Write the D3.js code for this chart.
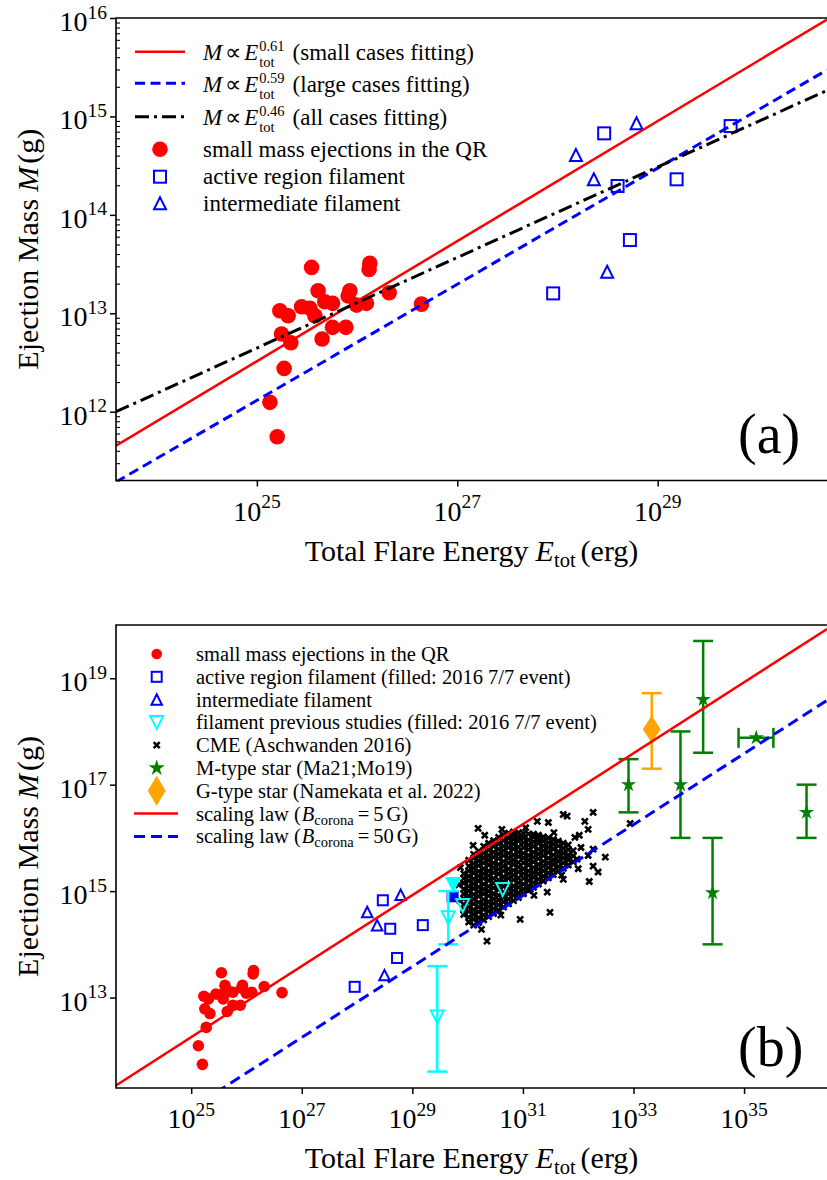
<!DOCTYPE html>
<html>
<head>
<meta charset="utf-8">
<script src="https://cdn.jsdelivr.net/npm/d3@7"></script>
<style>
  html, body { margin: 0; padding: 0; background: #fff; }
  svg { display: block; }
</style>
</head>
<body>
<svg id="fig" width="827" height="1180"></svg>
<script>
// ---------------------------------------------------------------------------
// Data: log10 of total flare energy E_tot (erg) and ejection mass M (g)
// ---------------------------------------------------------------------------

// small mass ejections in the quiet region
const smallLogE = [25.546, 26.127, 26.120, 25.611, 25.928, 25.911, 26.320, 25.229, 25.312,
  25.446, 25.529, 25.579, 25.678, 25.755, 25.995, 26.094, 26.643, 25.246, 25.339, 25.755,
  25.888, 25.651, 25.272, 25.130, 25.203];
const smallLogM = [13.466, 13.507, 13.446, 13.229, 13.229, 13.175, 13.208, 13.025, 12.975,
  13.066, 13.050, 12.975, 13.117, 13.101, 13.083, 13.101, 13.093, 12.789, 12.700, 12.857,
  12.857, 12.738, 12.440, 12.095, 11.745];

// active region filaments (the 2016 7/7 event is drawn filled in panel b)
const arLogE = [28.466, 28.600, 29.189, 29.728, 28.723, 27.957];
const arLogM = [14.828, 14.293, 14.361, 14.902, 13.744, 13.202];
const arIs0707 = [false, false, false, true, false, false];

// intermediate filaments
const interLogE = [28.184, 28.789, 28.363, 28.496];
const interLogM = [14.608, 14.930, 14.361, 13.422];

// filaments from previous studies (with mass ranges where given)
const prevLogE = [29.740, 29.910, 29.650, 30.634, 29.451];
const prevLogM = [15.126, 14.731, 14.499, 15.032, 12.637];
const prevLogMLow = [null, null, 14.00, null, 11.61];
const prevLogMHigh = [null, null, 15.00, null, 13.59];
const prevIs0707 = [true, false, false, false, false];

// M-type stars (Ma21; Mo19)
const mStarLogE = [32.91, 34.26, 33.85, 34.43, 35.22, 36.13];
const mStarLogM = [17.00, 18.60, 17.00, 14.97, 17.88, 16.48];
const mStarLogMLow = [16.48, 17.60, 16.00, 14.00, null, 16.00];
const mStarLogMHigh = [17.48, 19.70, 18.00, 16.00, null, 17.00];
const mStarLogELow = [null, null, null, null, 34.90, null];
const mStarLogEHigh = [null, null, null, null, 35.53, null];

// G-type star (Namekata et al. 2022)
const gStarLogE = [33.33];
const gStarLogM = [18.04];
const gStarLogMLow = [17.30];
const gStarLogMHigh = [18.72];

// CMEs (Aschwanden 2016): columns of [log E, list of log M]
const cmeColumns = [
  [29.93, [14.56, 14.66, 14.75, 14.86, 14.95, 15.04, 15.15, 15.24, 15.33]],
  [30.02, [14.42, 14.51, 14.62, 14.71, 14.80, 14.91, 15.00, 15.09, 15.19, 15.28, 15.38, 15.47, 15.58]],
  [30.11, [14.36, 14.47, 14.56, 14.65, 14.76, 14.85, 14.94, 15.05, 15.14, 15.23, 15.34, 15.43, 15.52, 15.62, 15.69]],
  [30.20, [14.41, 14.50, 14.61, 14.70, 14.79, 14.90, 14.99, 15.08, 15.19, 15.28, 15.37, 15.48, 15.57, 15.66, 15.75]],
  [30.29, [14.46, 14.55, 14.66, 14.75, 14.84, 14.95, 15.04, 15.13, 15.24, 15.33, 15.42, 15.53, 15.62, 15.71, 15.84]],
  [30.38, [14.52, 14.62, 14.71, 14.80, 14.91, 15.00, 15.09, 15.20, 15.29, 15.38, 15.49, 15.58, 15.67, 15.77, 15.90]],
  [30.47, [14.58, 14.67, 14.77, 14.86, 14.95, 15.06, 15.15, 15.24, 15.35, 15.44, 15.53, 15.64, 15.73, 15.84, 15.95]],
  [30.56, [14.64, 14.74, 14.83, 14.92, 15.03, 15.12, 15.21, 15.32, 15.41, 15.50, 15.61, 15.70, 15.79, 15.89, 16.01]],
  [30.65, [14.70, 14.80, 14.89, 14.98, 15.09, 15.18, 15.27, 15.38, 15.47, 15.56, 15.67, 15.76, 15.85, 15.95, 16.05]],
  [30.74, [14.76, 14.85, 14.95, 15.04, 15.13, 15.24, 15.33, 15.42, 15.53, 15.62, 15.71, 15.82, 15.91, 16.00, 16.09]],
  [30.83, [14.82, 14.92, 15.01, 15.10, 15.21, 15.30, 15.39, 15.50, 15.59, 15.68, 15.79, 15.88, 15.97, 16.05, 16.11]],
  [30.92, [14.88, 14.97, 15.07, 15.16, 15.25, 15.36, 15.45, 15.54, 15.65, 15.74, 15.83, 15.94, 16.02, 16.10]],
  [31.01, [14.95, 15.04, 15.13, 15.24, 15.33, 15.42, 15.53, 15.62, 15.71, 15.82, 15.91, 16.00, 16.08]],
  [31.10, [15.01, 15.10, 15.20, 15.29, 15.38, 15.49, 15.58, 15.67, 15.78, 15.87, 15.96, 16.07]],
  [31.19, [15.07, 15.16, 15.26, 15.35, 15.44, 15.55, 15.64, 15.73, 15.84, 15.93, 16.02, 16.07]],
  [31.28, [15.13, 15.22, 15.32, 15.41, 15.50, 15.61, 15.70, 15.79, 15.90, 15.98, 16.05]],
  [31.37, [15.19, 15.28, 15.38, 15.47, 15.56, 15.67, 15.76, 15.85, 15.94, 16.02]],
  [31.46, [15.25, 15.34, 15.44, 15.53, 15.62, 15.73, 15.82, 15.91, 16.00]],
  [31.55, [15.31, 15.40, 15.50, 15.59, 15.68, 15.79, 15.88, 15.97]],
  [31.64, [15.37, 15.46, 15.56, 15.65, 15.74, 15.85, 15.94]],
  [31.73, [15.43, 15.53, 15.62, 15.71, 15.80, 15.90]],
  [31.82, [15.49, 15.59, 15.68, 15.78, 15.87]],
  [31.91, [15.55, 15.66, 15.76]]
];
// CMEs lying away from the dense core: [log E, log M]
const cmeScattered = [
  [30.19, 16.18], [31.26, 16.31], [31.73, 16.44], [31.46, 16.29], [30.35, 14.06], [30.95, 14.47],
  [31.49, 14.60], [31.80, 16.41], [32.27, 16.48], [32.12, 16.31], [32.18, 16.16], [31.94, 16.01],
  [32.94, 16.27], [32.05, 15.82], [32.27, 15.79], [32.49, 15.64], [31.80, 15.65], [32.27, 15.47],
  [32.18, 15.67], [31.73, 15.22], [31.44, 14.98], [31.13, 15.03], [29.84, 15.12], [29.86, 14.82],
  [29.87, 15.44], [30.10, 15.86], [30.31, 16.05], [30.62, 16.16], [31.05, 16.19], [31.56, 16.10],
  [30.25, 14.28], [30.60, 14.55], [31.20, 14.92], [31.70, 15.30], [32.00, 15.42], [32.20, 15.18],
  [32.36, 15.36], [32.02, 16.05], [31.98, 15.60]
];

// power-law fits of panel a: log M = slope * log E + norm
const fitSlopes = [0.61, 0.59, 0.46];
const fitNorms = [-2.737, -2.635, 1.147];
const fitLabels = ["(small cases fitting)", "(large cases fitting)", "(all cases fitting)"];

// scaling law of panel b for two coronal field strengths
const lawSlope = 2 / 3;
const lawNorms = [-4.41, -5.75];
const lawFields = ["5", "50"];

// axis tick values
const ticksAx = [1e25, 1e27, 1e29];
const ticksAy = [1e12, 1e13, 1e14, 1e15, 1e16];
const ticksBx = [1e25, 1e27, 1e29, 1e31, 1e33, 1e35];
const ticksBy = [1e13, 1e15, 1e17, 1e19];

// legend texts
const legendA = ["small mass ejections in the QR", "active region filament", "intermediate filament"];
const legendB = [
  "small mass ejections in the QR",
  "active region filament (filled: 2016 7/7 event)",
  "intermediate filament",
  "filament previous studies (filled: 2016 7/7 event)",
  "CME (Aschwanden 2016)",
  "M-type star (Ma21;Mo19)",
  "G-type star (Namekata et al. 2022)"
];

// ---------------------------------------------------------------------------
const RED = "#ff0000", BLUE = "#0000ff", CYAN = "#00ffff", GREEN = "#008000", ORANGE = "#ffa500";
const svg = d3.select("#fig");
const P = v => Math.pow(10, v);

// --- font selection: a Times-metric serif if available, else another serif ---
const probe = svg.append("text").attr("x", -3000).attr("y", -3000).style("font-size", "100px");
function widthIn(family, s, size = 100, italic = false) {
  probe.style("font-family", family).style("font-size", size + "px")
    .style("font-style", italic ? "italic" : "normal").text(s);
  return probe.node().getComputedTextLength();
}
const SAMPLE = "ssssmmmmiiii";          // 5.78 em in Times metrics
const TIMES_WIDTH = 578;
function chooseFont() {
  const serifs = ["Liberation Serif", "Tinos", "Times New Roman", "Nimbus Roman", "Nimbus Roman No9 L",
    "FreeSerif", "DejaVu Serif Condensed", "DejaVu Serif", "Noto Serif", "Bitstream Vera Serif"];
  const monoW = widthIn('"DejaVu Sans Mono"', SAMPLE);
  const present = [];
  for (const c of serifs) {
    const a = widthIn(`"${c}", "DejaVu Sans Mono"`, SAMPLE);
    const b = widthIn(`"${c}", "Lato"`, SAMPLE);
    if (Math.abs(a - b) < 0.5 && Math.abs(a - monoW) > 1) present.push({ c, w: a });
  }
  const exact = present.find(p => Math.abs(p.w - TIMES_WIDTH) < 8);
  const pick = exact || present[0];
  if (pick) return { family: `"${pick.c}", serif`, w: pick.w };
  const fam = '"Liberation Serif", "DejaVu Serif", serif';
  return { family: fam, w: widthIn(fam, SAMPLE) };
}
const chosen = chooseFont();
const FONT = chosen.family;
// horizontal factor so that text widths follow Times metrics
let KX = TIMES_WIDTH / chosen.w;
if (!isFinite(KX) || KX < 0.7 || KX > 1.4) KX = 1;
if (Math.abs(KX - 1) < 0.015) KX = 1;

function measure(s, size, italic) { return widthIn(FONT, s, size, italic); }

// one <text> made of pieces: plain, italic, super/subscripts
function richText(parent, x, y, parts, opts = {}) {
  let cx = 0;
  const spans = [];
  for (const p of parts) {
    cx += p.pre || 0;
    if (p.sup !== undefined || p.sub !== undefined) {
      let w = 0;
      if (p.sup !== undefined) {
        spans.push({ s: p.sup, x: cx, y: -p.up, size: p.size });
        w = Math.max(w, measure(p.sup, p.size));
      }
      if (p.sub !== undefined) {
        const ss = p.subSize || p.size;
        spans.push({ s: p.sub, x: cx, y: p.down, size: ss });
        w = Math.max(w, measure(p.sub, ss));
      }
      cx += w;
    } else {
      spans.push({ s: p.t, x: cx, y: 0, size: p.size, italic: p.italic });
      cx += measure(p.t, p.size, p.italic);
    }
    cx += p.post || 0;
  }
  const total = cx * KX;
  const anchor = opts.anchor || "start";
  const shift = anchor === "middle" ? -total / 2 : anchor === "end" ? -total : 0;
  const g = parent.append("g").attr("transform",
    `translate(${x},${y})` + (opts.rotate ? ` rotate(${opts.rotate})` : "") +
    ` translate(${shift},0) scale(${KX},1)`);
  const t = g.append("text").style("font-family", FONT).attr("fill", "#000");
  spans.forEach(sp => t.append("tspan").attr("x", sp.x).attr("y", sp.y)
    .style("font-size", sp.size + "px").style("font-style", sp.italic ? "italic" : "normal")
    .text(sp.s));
  return g;
}
const plain = (parent, x, y, size, s) => richText(parent, x, y, [{ t: s, size }]);

// marker shapes
function triPath(s, down) {
  const h = s / 2;
  return down ? `M0,${h}L${-h},${-h}L${h},${-h}Z` : `M0,${-h}L${-h},${h}L${h},${h}Z`;
}
function diamondPath(w, h) {
  return `M0,${-h / 2}L${w / 2},0L0,${h / 2}L${-w / 2},0Z`;
}
const crossPath = "M-3,-3L3,3M-3,3L3,-3";
function starPath(r) {
  return d3.symbol(d3.symbolStar, r * r / 0.8908130915292852)();
}

function drawCircle(g, cx, cy, r, color) {
  g.append("circle").attr("cx", cx).attr("cy", cy).attr("r", r).attr("fill", color);
}
function drawSquare(g, cx, cy, s, color, filled) {
  g.append("rect").attr("x", cx - s / 2).attr("y", cy - s / 2).attr("width", s).attr("height", s)
    .attr("fill", filled ? color : "none").attr("stroke", color).attr("stroke-width", 2);
}
function drawTri(g, cx, cy, s, color, down, filled) {
  g.append("path").attr("d", triPath(s, down)).attr("transform", `translate(${cx},${cy})`)
    .attr("fill", filled ? color : "none").attr("stroke", color).attr("stroke-width", 2)
    .attr("stroke-linejoin", "miter");
}
function drawCross(g, cx, cy) {
  g.append("path").attr("d", crossPath).attr("transform", `translate(${cx},${cy})`)
    .attr("stroke", "#000").attr("stroke-width", 2.6).attr("fill", "none");
}
function drawStar(g, cx, cy, r) {
  g.append("path").attr("d", starPath(r)).attr("transform", `translate(${cx},${cy})`).attr("fill", GREEN);
}
function drawDiamond(g, cx, cy, w, h) {
  g.append("path").attr("d", diamondPath(w, h)).attr("transform", `translate(${cx},${cy})`).attr("fill", ORANGE);
}
function vErr(g, cx, y0, y1, color) {
  g.append("line").attr("x1", cx).attr("x2", cx).attr("y1", y0).attr("y2", y1)
    .attr("stroke", color).attr("stroke-width", 2.5);
  [y0, y1].forEach(yy => g.append("line").attr("x1", cx - 10).attr("x2", cx + 10)
    .attr("y1", yy).attr("y2", yy).attr("stroke", color).attr("stroke-width", 2.5));
}
function hErr(g, x0, x1, cy, color) {
  g.append("line").attr("x1", x0).attr("x2", x1).attr("y1", cy).attr("y2", cy)
    .attr("stroke", color).attr("stroke-width", 2.5);
  [x0, x1].forEach(xx => g.append("line").attr("x1", xx).attr("x2", xx)
    .attr("y1", cy - 10).attr("y2", cy + 10).attr("stroke", color).attr("stroke-width", 2.5));
}

// axes frame, scales and clip
function makePanel(c) {
  const x = d3.scaleLog().domain(c.xDomain).range([c.left, c.right]);
  const y = d3.scaleLog().domain(c.yDomain).range([c.bottom, c.top]);
  svg.append("clipPath").attr("id", "clip" + c.name).append("rect")
    .attr("x", c.left).attr("y", c.top).attr("width", c.right - c.left).attr("height", c.bottom - c.top);
  const plot = svg.append("g").attr("clip-path", `url(#clip${c.name})`);
  return { x, y, plot, c };
}

function expLabel(v) {
  return [{ t: "10", size: 28 }, { sup: String(Math.round(Math.log10(v))), size: 19.5, up: 12.5 }];
}

function drawFrame(p, xt, yt, minorY) {
  const { x, y, c } = p;
  const ax = svg.append("g");
  ax.append("g").attr("transform", `translate(0,${c.bottom})`)
    .call(d3.axisBottom(x).tickValues(xt).tickSize(6).tickFormat(""))
    .call(g => g.select(".domain").remove())
    .call(g => g.selectAll("line").attr("stroke-width", 1.5));
  ax.append("g").attr("transform", `translate(${c.left},0)`)
    .call(d3.axisLeft(y).tickValues(yt).tickSize(6).tickFormat(""))
    .call(g => g.select(".domain").remove())
    .call(g => g.selectAll("line").attr("stroke-width", 1.5));
  if (minorY) {
    ax.append("g").attr("transform", `translate(${c.left},0)`)
      .call(d3.axisLeft(y).tickValues(minorY).tickSizeInner(-4).tickSizeOuter(0).tickFormat(""))
      .call(g => g.select(".domain").remove())
      .call(g => g.selectAll("line").attr("stroke-width", 1.1));
  }
  ax.append("path")
    .attr("d", `M${c.right},${c.top}H${c.left}V${c.bottom}H${c.right}`)
    .attr("fill", "none").attr("stroke", "#000").attr("stroke-width", 1.6);
  xt.forEach(v => richText(ax, x(v), c.bottom + 40, expLabel(v), { anchor: "middle" }));
  yt.forEach(v => richText(ax, c.left - 9, y(v) + 13, expLabel(v), { anchor: "end" }));
  richText(ax, (c.left + c.right) / 2, c.bottom + 80, [
    { t: "Total Flare Energy", size: 30, post: 7 },
    { t: "E", size: 30, italic: true },
    { sub: "tot", size: 20.5, down: 6, post: 5 },
    { t: "(erg)", size: 30 }
  ], { anchor: "middle" });
  richText(ax, 38, (c.top + c.bottom) / 2, [
    { t: "Ejection Mass", size: 30, post: 7 },
    { t: "M", size: 30, italic: true, post: 3 },
    { t: "(g)", size: 30 }
  ], { anchor: "middle", rotate: -90 });
  plain(ax, 738, c.tagY, 56, c.tag);
}

function minorTicks(lo, hi) {
  const out = [];
  for (let e = lo; e < hi; e++) for (let m = 2; m <= 9; m++) out.push(m * Math.pow(10, e));
  return out;
}

// ---------------------------------------------------------------------------
// Panel (a)
// ---------------------------------------------------------------------------
const A = makePanel({ name: "A", left: 116, right: 827, top: 18, bottom: 480.5,
  xDomain: [P(23.594), P(30.69)], yDomain: [2e11, 1e16], tag: "(a)", tagY: 453 });
{
  const { x, y, plot } = A;
  smallLogE.forEach((e, i) => drawCircle(plot, x(P(e)), y(P(smallLogM[i])), 7.8, RED));
  arLogE.forEach((e, i) => drawSquare(plot, x(P(e)), y(P(arLogM[i])), 12, BLUE, false));
  interLogE.forEach((e, i) => drawTri(plot, x(P(e)), y(P(interLogM[i])), 12, BLUE, false, false));
  const styles = [
    { color: RED, dash: null, w: 2.5 },
    { color: BLUE, dash: "10,5.5", w: 3 },
    { color: "#000", dash: "14,5,3,5", w: 3 }
  ];
  const [e0, e1] = x.domain().map(Math.log10);
  fitSlopes.forEach((s, i) => {
    plot.append("line")
      .attr("x1", x(P(e0))).attr("y1", y(P(s * e0 + fitNorms[i])))
      .attr("x2", x(P(e1))).attr("y2", y(P(s * e1 + fitNorms[i])))
      .attr("stroke", styles[i].color).attr("stroke-width", styles[i].w)
      .attr("stroke-dasharray", styles[i].dash);
  });
  drawFrame(A, ticksAx, ticksAy, minorTicks(11, 16).filter(v => v >= 2e11));

  const leg = svg.append("g");
  const rows = [51.7, 83.3, 116.7, 149.3, 176.7, 203.3];
  const exps = ["0.61", "0.59", "0.46"];
  fitSlopes.forEach((s, i) => {
    leg.append("line").attr("x1", 135).attr("x2", 185).attr("y1", rows[i]).attr("y2", rows[i])
      .attr("stroke", styles[i].color).attr("stroke-width", styles[i].w)
      .attr("stroke-dasharray", styles[i].dash);
    richText(leg, 203, rows[i] + 8.5, [
      { t: "M", size: 23, italic: true, post: 3 },
      { t: "\u221D", size: 23, post: 3 },
      { t: "E", size: 23, italic: true, post: 1 },
      { sup: exps[i], sub: "tot", size: 14.5, up: 9, down: 7, post: 8 },
      { t: fitLabels[i], size: 23 }
    ]);
  });
  drawCircle(leg, 160, rows[3], 7.8, RED);
  drawSquare(leg, 160, rows[4], 12, BLUE, false);
  drawTri(leg, 160, rows[5], 12, BLUE, false, false);
  legendA.forEach((t, i) => plain(leg, 203, rows[3 + i] + 7.5, 23, t));
}

// ---------------------------------------------------------------------------
// Panel (b)
// ---------------------------------------------------------------------------
const B = makePanel({ name: "B", left: 116, right: 827, top: 625, bottom: 1088,
  xDomain: [P(23.64), P(36.5)], yDomain: [2e11, 1e20], tag: "(b)", tagY: 1066 });
{
  const { x, y, plot } = B;
  const X = e => x(P(e)), Y = m => y(P(m));
  cmeColumns.forEach(([e, ms]) => ms.forEach(m => drawCross(plot, X(e), Y(m))));
  cmeScattered.forEach(([e, m]) => drawCross(plot, X(e), Y(m)));

  smallLogE.forEach((e, i) => drawCircle(plot, X(e), Y(smallLogM[i]), 5.8, RED));
  arLogE.forEach((e, i) => drawSquare(plot, X(e), Y(arLogM[i]), 10, BLUE, arIs0707[i]));
  interLogE.forEach((e, i) => drawTri(plot, X(e), Y(interLogM[i]), 10.5, BLUE, false, false));

  prevLogE.forEach((e, i) => {
    if (prevLogMLow[i] !== null) vErr(plot, X(e), Y(prevLogMHigh[i]), Y(prevLogMLow[i]), CYAN);
    drawTri(plot, X(e), Y(prevLogM[i]), 13, CYAN, true, prevIs0707[i]);
  });

  mStarLogE.forEach((e, i) => {
    if (mStarLogMLow[i] !== null) vErr(plot, X(e), Y(mStarLogMHigh[i]), Y(mStarLogMLow[i]), GREEN);
    if (mStarLogELow[i] !== null) hErr(plot, X(mStarLogELow[i]), X(mStarLogEHigh[i]), Y(mStarLogM[i]), GREEN);
    drawStar(plot, X(e), Y(mStarLogM[i]), 8);
  });
  gStarLogE.forEach((e, i) => {
    vErr(plot, X(e), Y(gStarLogMHigh[i]), Y(gStarLogMLow[i]), ORANGE);
    drawDiamond(plot, X(e), Y(gStarLogM[i]), 18, 27);
  });

  const lawStyles = [{ color: RED, dash: null, w: 2.5 }, { color: BLUE, dash: "11,6", w: 3 }];
  const [e0, e1] = x.domain().map(Math.log10);
  lawNorms.forEach((n, i) => {
    plot.append("line")
      .attr("x1", X(e0)).attr("y1", Y(lawSlope * e0 + n))
      .attr("x2", X(e1)).attr("y2", Y(lawSlope * e1 + n))
      .attr("stroke", lawStyles[i].color).attr("stroke-width", lawStyles[i].w)
      .attr("stroke-dasharray", lawStyles[i].dash);
  });
  drawFrame(B, ticksBx, ticksBy, null);

  const leg = svg.append("g");
  const rows = d3.range(9).map(i => 654 + 22.8 * i);
  const mx = 156.7, tx = 196;
  drawCircle(leg, mx, rows[0], 5.3, RED);
  drawSquare(leg, mx, rows[1], 10, BLUE, false);
  drawTri(leg, mx, rows[2], 10.5, BLUE, false, false);
  drawTri(leg, mx, rows[3], 13, CYAN, true, false);
  drawCross(leg, mx, rows[4]);
  drawStar(leg, mx, rows[5], 8.5);
  drawDiamond(leg, mx, rows[6], 18, 30);
  legendB.forEach((t, i) => plain(leg, tx, rows[i] + 7, 20.5, t));
  lawFields.forEach((f, i) => {
    const r = rows[7 + i];
    leg.append("line").attr("x1", 134).attr("x2", 178).attr("y1", r).attr("y2", r)
      .attr("stroke", lawStyles[i].color).attr("stroke-width", lawStyles[i].w)
      .attr("stroke-dasharray", lawStyles[i].dash);
    richText(leg, tx, r + 7, [
      { t: "scaling law (", size: 20.5, post: 1 },
      { t: "B", size: 20.5, italic: true },
      { sub: "corona", size: 14.5, down: 4, post: 4 },
      { t: "=", size: 20.5, post: 4 },
      { t: f, size: 20.5, post: 3 },
      { t: "G)", size: 20.5 }
    ]);
  });
}
probe.remove();
</script>
</body>
</html>
